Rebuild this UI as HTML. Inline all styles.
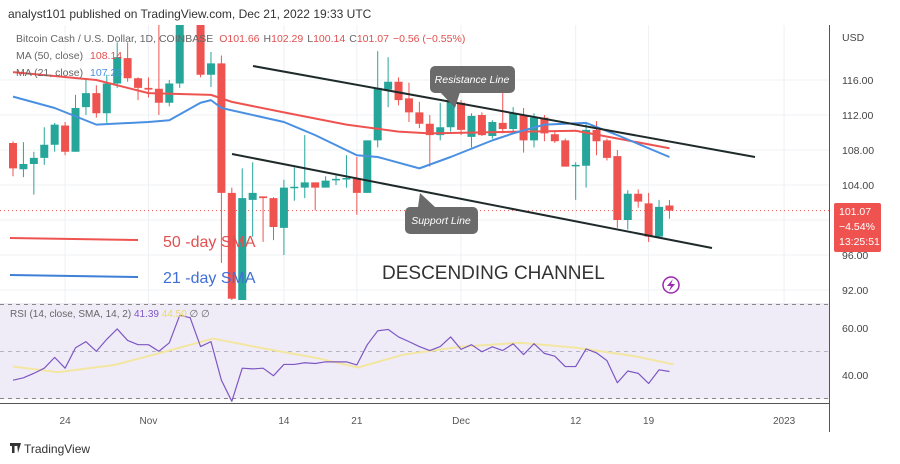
<!DOCTYPE html>
<html><head><meta charset="utf-8">
<style>
body{margin:0;background:#fff;width:900px;height:464px;overflow:hidden;font-family:"Liberation Sans",sans-serif}
svg{display:block}
</style></head><body>
<svg id="c" width="900" height="464" xmlns="http://www.w3.org/2000/svg" font-family="Liberation Sans, sans-serif">
<rect x="0" y="0" width="900" height="464" fill="#fff"/>
<text x="8" y="18" font-size="12" fill="#333">analyst101 published on TradingView.com, Dec 21, 2022 19:33 UTC</text>
<g id="grid"></g>
<rect x="0" y="303" width="829" height="96" fill="#efecf8"/>
<g id="rsiPane"></g>
<clipPath id="pc"><rect x="0" y="25" width="829" height="275"/></clipPath>
<g id="price" clip-path="url(#pc)"></g>
<g id="axes"></g>
<g font-size="10.5" fill="#666">
<text x="16" y="42"><tspan>Bitcoin Cash / U.S. Dollar, 1D, COINBASE</tspan><tspan fill="#e0504f" dx="6">O101.66</tspan><tspan fill="#666" dx="4">H</tspan><tspan fill="#e0504f">102.29</tspan><tspan dx="4" fill="#666">L</tspan><tspan fill="#e0504f">100.14</tspan><tspan dx="4" fill="#666">C</tspan><tspan fill="#e0504f">101.07</tspan><tspan dx="4" fill="#e0504f">−0.56 (−0.55%)</tspan></text>
<text x="16" y="59">MA (50, close) <tspan fill="#e0504f" dx="4">108.14</tspan></text>
<text x="16" y="76">MA (21, close) <tspan fill="#4a90e2" dx="4">107.23</tspan></text>
<text x="10" y="317" font-size="10">RSI (14, close, SMA, 14, 2) <tspan fill="#7e57c2">41.39</tspan> <tspan fill="#e8d870">44.50</tspan> ∅ ∅</text>
</g>
<g>
<line x1="10" y1="238" x2="138" y2="240" stroke="#ef5350" stroke-width="2"/>
<text x="163" y="247" font-size="16" fill="#e0504f">50 -day SMA</text>
<line x1="10" y1="275" x2="138" y2="277" stroke="#3f7fd6" stroke-width="2"/>
<text x="163" y="283" font-size="16" fill="#3f6fd6">21 -day SMA</text>
<text x="382" y="279" font-size="19" fill="#333">DESCENDING CHANNEL</text>
</g>
<g>
<path d="M440 92 L455 108 L460 92 Z" fill="#6b6b6b"/>
<rect x="430" y="66" width="85" height="27" rx="5" fill="#6b6b6b"/>
<text x="472" y="83" font-size="10.5" fill="#fff" font-style="italic" text-anchor="middle">Resistance Line</text>
<path d="M418 207 L420 193 L435 207 Z" fill="#6b6b6b"/>
<rect x="405" y="207" width="73" height="27" rx="5" fill="#6b6b6b"/>
<text x="441" y="224" font-size="10.5" fill="#fff" font-style="italic" text-anchor="middle">Support Line</text>
</g>
<g>
<circle cx="671" cy="285" r="8" fill="none" stroke="#9c27b0" stroke-width="1.5"/>
<path d="M673 279 L667 286 L671 286 L669 291 L675 284 L671 284 Z" fill="#9c27b0"/>
</g>
<g>
<rect x="10" y="443" width="6" height="3" fill="#333"/><rect x="12" y="443" width="2.5" height="10" fill="#333"/>
<path d="M17 443 L21 443 L18 453 Z" fill="#333"/><circle cx="16.5" cy="444.5" r="1.5" fill="#333"/>
<text x="24" y="453" font-size="12" fill="#333">TradingView</text>
</g>
<script>
const openP=[108.8,105.8,106.4,107.1,108.6,110.8,107.8,112.9,114.5,112.2,115.6,118.5,116.2,115.1,115.0,113.4,115.6,124,126,116.6,117.9,103.1,90,102.3,102.7,102.5,99.1,103.7,103.7,104.3,103.7,104.6,104.7,104.7,103.1,109.1,114.9,115.8,113.9,112.3,111.0,109.7,110.6,113.4,109.5,112.0,109.6,111.1,110.4,112.0,109.1,111.7,109.8,109.1,106.2,106.2,110.3,109.1,107.3,100.0,103.0,101.9,98.1,101.66];
const highP=[109.0,108.9,107.8,110.6,111.1,111.2,114.3,116.0,115.4,116.6,120.3,120.3,116.3,116.3,122.5,116.0,123,129,127,119.2,118.8,103.7,105.9,106.6,102.7,102.6,104.6,106.0,109.7,104.3,105.0,105.1,107.4,107.2,109.1,119.3,118.6,116.3,115.7,113.5,112.0,113.4,114.5,113.7,112.2,112.3,111.4,117.5,112.9,112.8,112.2,112.0,110.1,109.3,106.6,111.2,111.3,109.3,108.0,103.4,103.5,103.1,102.3,102.29];
const lowP=[105.0,104.9,102.9,106.3,107.8,107.4,107.8,112.0,111.7,111.1,115.1,115.8,113.7,114.0,112.0,113.0,115.1,123,116.3,115.2,95.1,88,88,98.1,97.5,97.7,96.0,102.2,102.5,101.1,103.7,104.0,103.7,100.6,103.1,108.3,112.9,113.1,111.2,110.5,106.1,109.1,110.1,109.7,108.3,109.6,109.3,109.9,110.1,107.7,108.3,109.0,108.8,106.1,102.3,103.7,107.4,106.8,99.1,98.9,101.4,97.5,97.9,100.14];
const closeP=[105.9,106.4,107.1,108.6,110.9,107.8,112.8,114.5,112.2,115.6,118.6,116.2,115.1,114.9,113.4,115.6,122.5,127,116.6,117.9,103.1,91,102.5,103.1,102.5,99.2,103.7,103.8,104.3,103.7,104.5,104.7,104.8,103.1,109.1,115.1,115.8,113.7,112.3,111.0,109.7,110.6,113.5,110.3,111.9,109.7,111.2,110.4,112.2,109.1,111.7,109.9,109.0,106.1,106.3,110.3,109.0,107.1,100.0,103.0,102.1,98.1,101.5,101.07];
const ma50Idx=[0,8,13,19,21,26,32,37,40,49,54,63];
const ma50Val=[116.9,116.0,114.5,114.3,113.5,112.3,110.9,110.1,109.9,110.1,110.2,108.2];
const ma21Idx=[0,4,8,13,15,18,19,20,26,29,33,35,39,42,46,48,51,55,58,63];
const ma21Val=[114.1,112.8,110.9,111.2,111.4,113.4,113.7,112.8,111.2,109.7,107.4,107.2,105.9,107.2,109.1,109.9,110.9,111.1,109.7,107.2];
const rsiVal=[37.8,38.8,40.7,42.9,47.5,42.9,51.6,54.2,50.1,55.2,59.6,54.7,52.9,52.9,50.1,53.7,65.4,64.4,52.1,54.2,37.8,28.8,42.9,42.6,42.9,39.7,44.5,44.5,45.2,44.9,45.6,45.6,45.6,44.3,52.9,58.8,59.4,56.2,54.2,52.1,50.4,52.1,56.2,50.9,52.9,49.9,52.0,50.4,53.3,48.7,53.3,49.2,48.0,43.6,43.6,51.1,49.4,46.1,36.7,41.7,40.7,36.4,42.2,41.5];
const rsiSmaIdx=[0,4.3,9.8,15.4,19.2,23.7,29.2,33.1,37.5,43.1,48.6,54.1,59.7,63.4];
const rsiSmaVal=[43.6,41.2,44.3,50.9,55.5,51.6,47.2,43.2,48.7,52.1,53.7,51.6,48.0,44.5];
const priceTicks=[116,112,108,104,96,92];
const rsiTicks=[60,40];
const dateLabels=["24","Nov","14","21","Dec","12","19","2023"];
const dateIdx=[5,13,26,33,43,54,61,74];

const NS="http://www.w3.org/2000/svg";
const X=i=>13+i*10.42;
const Y=p=>80+(116-p)*8.75;
const RY=v=>351.5-(v-50)*2.35;
function mk(tag,at,parent){const e=document.createElementNS(NS,tag);for(const k in at)e.setAttribute(k,at[k]);parent.appendChild(e);return e;}
const grid=document.getElementById('grid'),price=document.getElementById('price'),rsiG=document.getElementById('rsiPane'),axes=document.getElementById('axes');

dateIdx.forEach((d,k)=>{
  const g=mk('line',{x1:X(d),x2:X(d),y1:25,y2:400,stroke:'#eef0f3','stroke-width':1},grid);
  
  
  const t=mk('text',{x:X(d),y:424,'font-size':10,fill:'#555','text-anchor':'middle'},axes);
  t.textContent=dateLabels[k];
  
  
});
priceTicks.concat([100]).forEach(p=>{
  const g=mk('line',{x1:0,x2:829,y1:Y(p),y2:Y(p),stroke:'#eef0f3','stroke-width':1},grid);
  
  
});
priceTicks.forEach(p=>{
  const t=mk('text',{x:842,y:Y(p)+4,'font-size':10.5,fill:'#444'},axes);
  t.textContent=p.toFixed(2);
  
  
});
{const t=mk('text',{x:842,y:41,'font-size':10.5,fill:'#444'},axes);t.textContent='USD';

}
[70,50,30].forEach(v=>{
  const l=mk('line',{x1:0,x2:829,y1:RY(v),y2:RY(v),stroke:v===50?'#b8b4c8':'#888','stroke-width':1,'stroke-dasharray':'4,4'},rsiG);
  
  
});
rsiTicks.forEach(v=>{
  const t=mk('text',{x:842,y:RY(v)+4,'font-size':10.5,fill:'#444'},axes);
  t.textContent=v.toFixed(2);
  
  
});
mk('line',{x1:829.5,x2:829.5,y1:25,y2:432,stroke:'#555','stroke-width':1},axes);
mk('line',{x1:0,x2:829,y1:403.5,y2:403.5,stroke:'#555','stroke-width':1},axes);

{const l=mk('line',{x1:0,x2:829,y1:Y(closeP[closeP.length-1]),y2:Y(closeP[closeP.length-1]),stroke:'#ef5350','stroke-width':1,'stroke-dasharray':'1,3'},price);

}

openP.forEach((o,i)=>{
  const c=closeP[i],up=c>=o,col=up?'#26a69a':'#ef5350',x=X(i);
  const w=mk('line',{x1:x,x2:x,y1:Y(highP[i]),y2:Y(lowP[i]),stroke:col,'stroke-width':1},price);
  
  
  const top=Y(Math.max(o,c)),h=Math.max(1.5,Math.abs(Y(o)-Y(c)));
  const b=mk('rect',{x:x-4,y:top,width:8,height:h,fill:col},price);
  
  
});
function poly(idx,val,fx,fy,col,w,parent,name){
  const p=mk('polyline',{points:idx.map((d,k)=>fx(d)+','+fy(val[k])).join(' '),fill:'none',stroke:col,'stroke-width':w,'stroke-linejoin':'round'},parent);
  
  
}
poly(ma50Idx,ma50Val,X,Y,'#ef5350',2,price,'ma50-line');
poly(ma21Idx,ma21Val,X,Y,'#4a90e2',2,price,'ma21-line');
{const a=mk('line',{x1:253,y1:66,x2:755,y2:157,stroke:'#1f2a2a','stroke-width':2},price);


const b=mk('line',{x1:232,y1:154,x2:712,y2:248,stroke:'#1f2a2a','stroke-width':2},price);

}

poly(rsiSmaIdx,rsiSmaVal,X,RY,'#f3e6a0',2,rsiG,'rsi-sma-line');
poly(rsiVal.map((v,i)=>i),rsiVal,X,RY,'#7e57c2',1.2,rsiG,'rsi-line');

{const g=mk('g',{},axes);


mk('rect',{x:834,y:203,width:47,height:49,rx:2,fill:'#ef5350'},g);
['101.07','−4.54%','13:25:51'].forEach((s,k)=>{const t=mk('text',{x:839,y:215+k*15,'font-size':10.5,fill:'#fff'},g);t.textContent=s;});}
</script>
</svg>
</body></html>
